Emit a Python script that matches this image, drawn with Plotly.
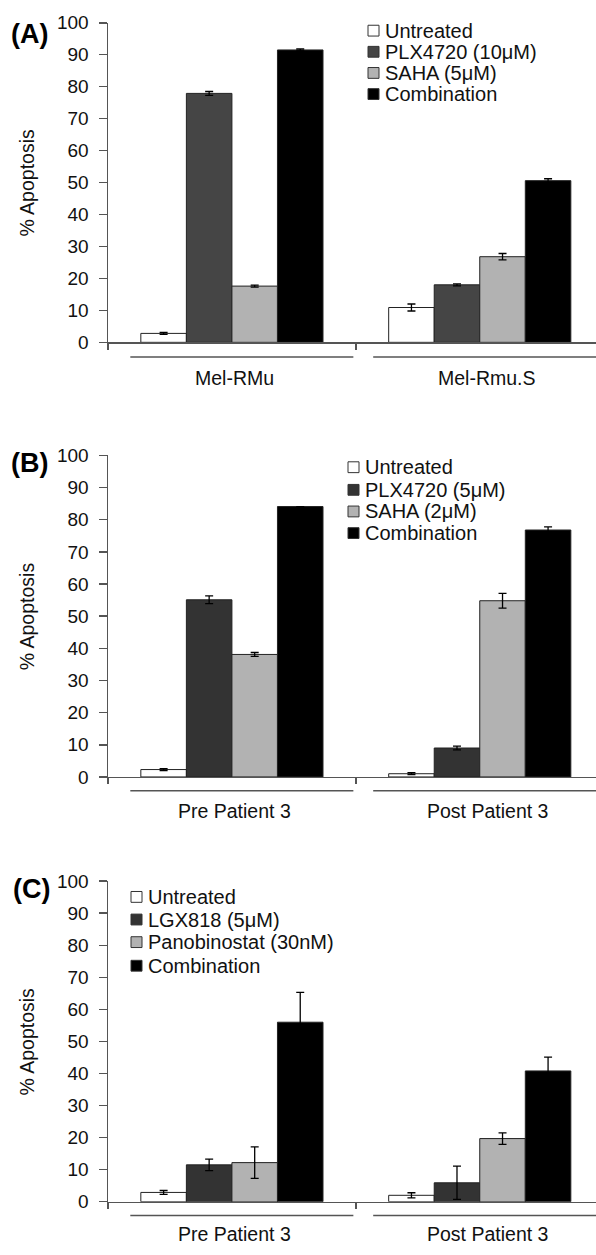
import plotly.graph_objects as go

W, H = 596, 1255

# ---------------- data ----------------
# Panel A
cats_A = ["Mel-RMu", "Mel-Rmu.S"]
series_A = ["Untreated", "PLX4720 (10μM)", "SAHA (5μM)", "Combination"]
untreated_A = [2.8, 10.9]
untreated_A_err = [0.3, 1.1]
plx_A = [77.9, 18.0]
plx_A_err = [0.6, 0.3]
saha_A = [17.6, 26.8]
saha_A_err = [0.3, 1.0]
comb_A = [91.5, 50.6]
comb_A_err = [0.3, 0.6]

# Panel B
cats_B = ["Pre Patient 3", "Post Patient 3"]
series_B = ["Untreated", "PLX4720 (5μM)", "SAHA (2μM)", "Combination"]
untreated_B = [2.3, 1.0]
untreated_B_err = [0.3, 0.3]
plx_B = [55.1, 9.0]
plx_B_err = [1.2, 0.6]
saha_B = [38.1, 54.8]
saha_B_err = [0.6, 2.3]
comb_B = [84.1, 76.8]
comb_B_err = [0.0, 1.0]

# Panel C
cats_C = ["Pre Patient 3", "Post Patient 3"]
series_C = ["Untreated", "LGX818 (5μM)", "Panobinostat (30nM)", "Combination"]
untreated_C = [2.9, 2.0]
untreated_C_err = [0.6, 0.8]
lgx_C = [11.5, 5.9]
lgx_C_err = [1.8, 5.2]
pano_C = [12.2, 19.7]
pano_C_err = [4.9, 1.8]
comb_C = [56.0, 40.8]
comb_C_err = [9.3, 4.3]

y_ticks = list(range(0, 101, 10))
panel_labels = ["(A)", "(B)", "(C)"]
y_title = "% Apoptosis"

# ---------------- layout helpers ----------------
FONT = "Liberation Sans, Arial, sans-serif"
AXC = "#555555"


def py(p):
    return 1 - p / H


def px(p):
    return p / W


panels = [
    dict(cats=cats_A, names=series_A,
         vals=[untreated_A, plx_A, saha_A, comb_A],
         errs=[untreated_A_err, plx_A_err, saha_A_err, comb_A_err],
         colors=["#ffffff", "#454545", "#b2b2b2", "#000000"],
         top=13, bottom=338, line_y=353, lab_y=374,
         leg_x=368, leg_rows=[21, 42.5, 64, 85.5],
         plab=(29, 24)),
    dict(cats=cats_B, names=series_B,
         vals=[untreated_B, plx_B, saha_B, comb_B],
         errs=[untreated_B_err, plx_B_err, saha_B_err, comb_B_err],
         colors=["#ffffff", "#333333", "#b2b2b2", "#000000"],
         top=453, bottom=780, line_y=794, lab_y=815,
         leg_x=348, leg_rows=[465, 488, 510, 532],
         plab=(29, 461)),
    dict(cats=cats_C, names=series_C,
         vals=[untreated_C, lgx_C, pano_C, comb_C],
         errs=[untreated_C_err, lgx_C_err, pano_C_err, comb_C_err],
         colors=["#ffffff", "#333333", "#b2b2b2", "#000000"],
         top=886, bottom=1212, line_y=1226, lab_y=1245,
         leg_x=131, leg_rows=[902, 925, 948, 972],
         plab=(31, 894)),
]

X_LEFT = 108
X_RANGE = [-0.5, 1.469]

fig = go.Figure()
shapes = []
annotations = []
layout = dict(
    width=W, height=H,
    margin=dict(l=0, r=0, t=0, b=0),
    paper_bgcolor="white", plot_bgcolor="white",
    barmode="group", bargap=0.265, bargroupgap=0,
    showlegend=False,
    font=dict(family=FONT, color="#111111"),
)

for i, p in enumerate(panels):
    sfx = "" if i == 0 else str(i + 1)
    xa, ya = "x" + sfx, "y" + sfx
    xpos = list(range(len(p["cats"])))
    for name, v, e, c in zip(p["names"], p["vals"], p["errs"], p["colors"]):
        fig.add_trace(go.Bar(
            x=xpos, y=v, name=name, xaxis=xa, yaxis=ya,
            marker=dict(color=c, line=dict(color="#222222", width=1)),
            error_y=dict(type="data", array=e, visible=True,
                         color="#000000", thickness=1.3, width=4),
            offsetgroup=name,
        ))

    layout["xaxis" + sfx] = dict(
        domain=[px(X_LEFT), 1.0], range=X_RANGE, anchor=ya,
        tickmode="array", tickvals=[-0.5, 0.5, 1.5], ticktext=["", "", ""],
        ticks="outside", ticklen=6, tickwidth=1.5, tickcolor=AXC,
        showline=True, linecolor=AXC, linewidth=1.5,
        showgrid=False, zeroline=False, fixedrange=True,
    )
    layout["yaxis" + sfx] = dict(
        domain=[py(p["bottom"]), py(p["top"])], range=[0, 100], anchor=xa,
        tickmode="array", tickvals=y_ticks,
        ticks="outside", ticklen=8, tickwidth=1.5, tickcolor=AXC,
        showline=True, linecolor=AXC, linewidth=1.5,
        showgrid=False, zeroline=False, fixedrange=True,
        tickfont=dict(size=19, family=FONT, color="#111111"),
        ticklabelstandoff=6,
    )

    # category underlines and labels
    for (x0, x1) in [(-0.41, 0.49), (0.57, X_RANGE[1])]:
        shapes.append(dict(type="line", xref=xa, yref="paper",
                           x0=x0, x1=x1, y0=py(p["line_y"]), y1=py(p["line_y"]),
                           line=dict(color=AXC, width=1.5)))
    for k, cat in enumerate(p["cats"]):
        annotations.append(dict(
            text=cat, xref=xa, yref="paper", x=k + (0.01 if k == 0 else 0.03),
            y=py(p["lab_y"]), showarrow=False, xanchor="center", yanchor="middle",
            font=dict(size=19.5, family=FONT, color="#111111")))

    # y-axis title
    annotations.append(dict(
        text=y_title, xref="paper", yref="paper", x=px(27),
        y=py((p["top"] + p["bottom"]) / 2), textangle=-90, showarrow=False,
        xanchor="center", yanchor="middle",
        font=dict(size=19.5, family=FONT, color="#111111")))

    # panel label
    annotations.append(dict(
        text="<b>" + panel_labels[i] + "</b>", xref="paper", yref="paper",
        x=px(p["plab"][0]), y=py(p["plab"][1]), showarrow=False,
        xanchor="center", yanchor="middle",
        font=dict(size=27, family=FONT, color="#000000")))

    # legend (squares + text)
    for name, c, ry in zip(p["names"], p["colors"], p["leg_rows"]):
        shapes.append(dict(type="rect", xref="paper", yref="paper",
                           x0=px(p["leg_x"]), x1=px(p["leg_x"] + 11),
                           y0=py(ry + 5.5), y1=py(ry - 5.5),
                           fillcolor=c, line=dict(color="#333333", width=1)))
        annotations.append(dict(
            text=name, xref="paper", yref="paper", x=px(p["leg_x"] + 15),
            y=py(ry), showarrow=False, xanchor="left", yanchor="middle",
            font=dict(size=20, family=FONT, color="#111111")))

layout["shapes"] = shapes
layout["annotations"] = annotations
fig.update_layout(**layout)

fig.write_html(
    "out.html",
    config={"displayModeBar": False, "staticPlot": True},
    post_script="document.body.style.margin='0';document.body.style.overflow='hidden';",
)
